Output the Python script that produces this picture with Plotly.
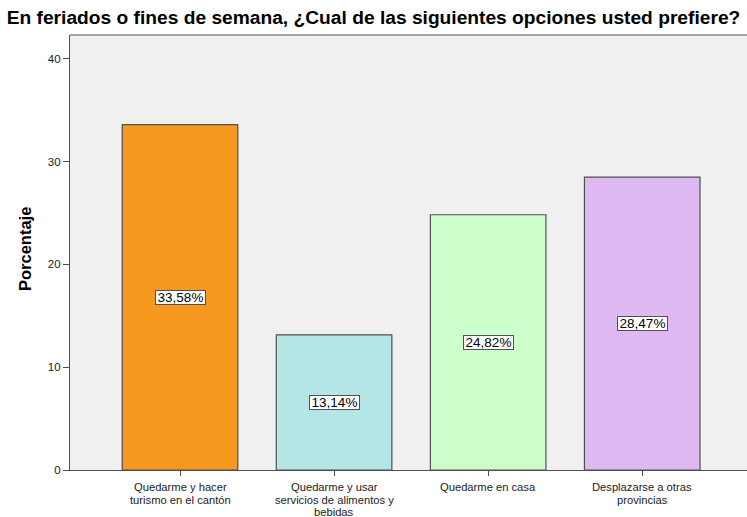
import plotly.graph_objects as go

categories = ["Quedarme y hacer<br>turismo en el cantón",
              "Quedarme y usar<br>servicios de alimentos y<br>bebidas",
              "Quedarme en casa",
              "Desplazarse a otras<br>provincias"]
values = [33.58, 13.14, 24.82, 28.47]
labels = ["33,58%", "13,14%", "24,82%", "28,47%"]
colors = ["#f7991f", "#b4e6e6", "#ccffcc", "#dfb9f2"]
yticks = [0, 10, 20, 30, 40]

FONT = "Liberation Sans, Arial"

fig = go.Figure()
fig.add_trace(go.Bar(
    x=list(range(len(categories))), y=values, width=0.75,
    marker=dict(color=colors, line=dict(color="#505050", width=1.2)),
    hoverinfo="skip"))

for i, (v, t) in enumerate(zip(values, labels)):
    fig.add_annotation(x=i, y=v / 2, text=t, showarrow=False,
                       font=dict(family=FONT, size=13.5, color="black"),
                       width=49, height=13,
                       bgcolor="white", bordercolor="#505050", borderwidth=1, borderpad=0)

# category labels, one line each for tight line spacing
for i, cat in enumerate(categories):
    for j, line in enumerate(cat.split("<br>")):
        fig.add_annotation(x=i, y=0, text=line, showarrow=False, xanchor="center",
                           yanchor="middle", yshift=-17 - 12.5 * j,
                           font=dict(family=FONT, size=11.2, color="#222222"))

fig.add_annotation(xref="paper", yref="paper", x=-0.0665, y=0.508, text="<b>Porcentaje</b>",
                   textangle=-90, showarrow=False, xanchor="center", yanchor="middle",
                   font=dict(family=FONT, size=16.5, color="black"))

fig.update_layout(
    width=747, height=517,
    margin=dict(l=70, r=0, t=35, b=47, autoexpand=False),
    paper_bgcolor="white", plot_bgcolor="#f0f0f0",
    showlegend=False,
    title=dict(text="<b>En feriados o fines de semana, ¿Cual de las siguientes opciones usted prefiere?</b>",
               x=0.5, xref="container", xanchor="center", y=1 - 17 / 517, yref="container", yanchor="middle",
               font=dict(family=FONT, size=19.2, color="black")),
    font=dict(family=FONT, size=11, color="#333333"),
)
fig.update_xaxes(range=[-0.714, 3.68], tickvals=list(range(len(categories))), showticklabels=False,
                 showgrid=False, zeroline=False, showline=True, linecolor="#505050", linewidth=1.2,
                 ticks="outside", ticklen=5, tickcolor="#505050", automargin=False)
fig.update_yaxes(range=[0, 42.3], tickvals=yticks, showgrid=False, zeroline=False,
                 showline=True, linecolor="#505050", linewidth=1.2, automargin=False,
                 ticks="outside", ticklen=6, tickcolor="#505050",
                 tickfont=dict(family=FONT, size=11.5, color="#222222"))
fig.add_shape(type="line", xref="paper", yref="paper", x0=0, x1=1, y0=1, y1=1,
              line=dict(color="#505050", width=1.2))

fig.write_html("out.html", config={"displayModeBar": False},
               post_script="document.body.style.margin='0';document.body.style.overflow='hidden';")
